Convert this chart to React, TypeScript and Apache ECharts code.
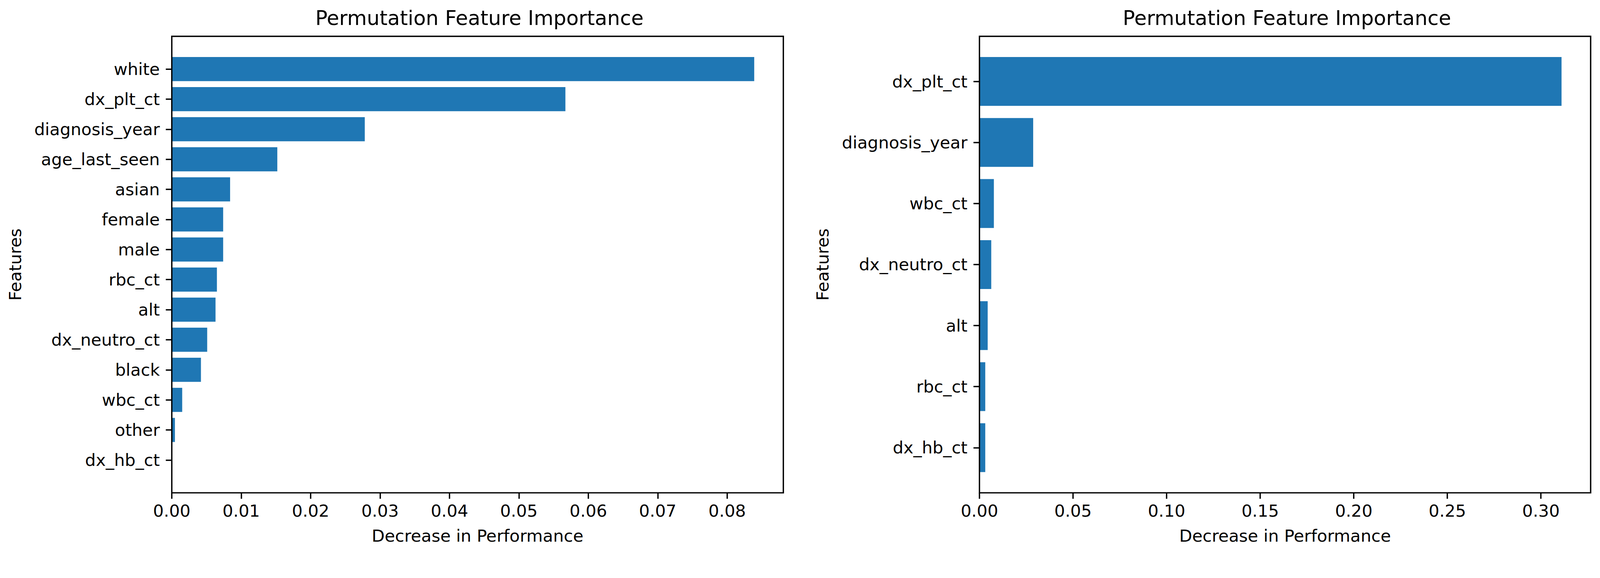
import React, { useEffect, useRef } from "react";
import * as echarts from "echarts";

// ---- data ----
const leftFeatures = [
  "white",
  "dx_plt_ct",
  "diagnosis_year",
  "age_last_seen",
  "asian",
  "female",
  "male",
  "rbc_ct",
  "alt",
  "dx_neutro_ct",
  "black",
  "wbc_ct",
  "other",
  "dx_hb_ct",
];
const leftValues = [
  0.0839, 0.0567, 0.0278, 0.0152, 0.0084, 0.0074, 0.0074, 0.0065, 0.0063,
  0.0051, 0.0042, 0.0015, 0.00045, 0.0,
];
const leftTicks = [0, 0.01, 0.02, 0.03, 0.04, 0.05, 0.06, 0.07, 0.08];

const rightFeatures = [
  "dx_plt_ct",
  "diagnosis_year",
  "wbc_ct",
  "dx_neutro_ct",
  "alt",
  "rbc_ct",
  "dx_hb_ct",
];
const rightValues = [0.311, 0.0287, 0.0077, 0.0063, 0.0044, 0.0031, 0.0031];
const rightTicks = [0, 0.05, 0.1, 0.15, 0.2, 0.25, 0.3];

const titleText = "Permutation Feature Importance";
const xName = "Decrease in Performance";
const yName = "Features";

// ---- layout / style (in 4275 x 1480 reference pixels) ----
const W = 4275;
const H = 1480;
const FONT = "DejaVu Sans";
const FRAME_TOP = 97;
const FRAME_H = 1220;
const LINE_W = 3.6;
const TICK_LEN = 16;
const BAR_COLOR = "#1f77b4";

const panels = [
  { left: 459, width: 1634, cats: leftFeatures, vals: leftValues, ticks: leftTicks, nameGap: 396 },
  { left: 2617, width: 1633, cats: rightFeatures, vals: rightValues, ticks: rightTicks, nameGap: 396 },
];

function buildOption() {
  const grid: any[] = [];
  const xAxis: any[] = [];
  const yAxis: any[] = [];
  const series: any[] = [];
  const title: any[] = [];

  panels.forEach((p, k) => {
    const n = p.cats.length;
    // matplotlib barh default limits: (-0.4 - m, n-1+0.4 + m), m = 0.05*(n-0.2)
    const span = (n - 0.2) * 1.1;
    const unit = FRAME_H / span;
    const padTop = (0.4 + 0.05 * (n - 0.2) - 0.5) * unit;
    const xmax = Math.max(...p.vals) * 1.05;
    const gFrame = k * 2;
    const gBars = k * 2 + 1;

    grid.push({
      left: p.left,
      top: FRAME_TOP,
      width: p.width,
      height: FRAME_H,
      show: true,
      borderColor: "#000",
      borderWidth: LINE_W,
      backgroundColor: "transparent",
      z: 5,
    });
    grid.push({
      left: p.left,
      top: FRAME_TOP + padTop,
      width: p.width,
      height: n * unit,
      show: false,
    });

    xAxis.push({
      gridIndex: gFrame,
      type: "value",
      min: 0,
      max: xmax,
      axisLine: { show: false },
      splitLine: { show: false },
      axisTick: {
        show: true,
        length: TICK_LEN,
        inside: false,
        customValues: p.ticks,
        lineStyle: { color: "#000", width: LINE_W },
      },
      axisLabel: {
        customValues: p.ticks,
        formatter: (v: number) => v.toFixed(2),
        color: "#000",
        fontFamily: FONT,
        fontSize: 45,
        margin: 26,
      },
      name: xName,
      nameLocation: "middle",
      nameGap: 92,
      nameTextStyle: { color: "#000", fontFamily: FONT, fontSize: 45 },
    });
    xAxis.push({
      gridIndex: gBars,
      type: "value",
      min: 0,
      max: xmax,
      show: false,
      splitLine: { show: false },
    });

    yAxis.push({
      gridIndex: gFrame,
      type: "value",
      show: false,
      splitLine: { show: false },
    });
    yAxis.push({
      gridIndex: gBars,
      type: "category",
      data: p.cats,
      inverse: true,
      axisLine: { show: false },
      splitLine: { show: false },
      axisTick: {
        show: true,
        alignWithLabel: true,
        length: TICK_LEN,
        lineStyle: { color: "#000", width: LINE_W },
      },
      axisLabel: {
        color: "#000",
        fontFamily: FONT,
        fontSize: 45,
        margin: 32,
        interval: 0,
      },
      name: yName,
      nameLocation: "middle",
      nameRotate: 90,
      nameGap: p.nameGap,
      nameTextStyle: { color: "#000", fontFamily: FONT, fontSize: 45 },
    });

    series.push({
      type: "bar",
      xAxisIndex: gBars,
      yAxisIndex: gBars,
      data: p.vals,
      barWidth: "80%",
      itemStyle: { color: BAR_COLOR },
      emphasis: { disabled: true },
    });

    title.push({
      text: titleText,
      left: p.left + p.width / 2,
      top: 16,
      textAlign: "center",
      textStyle: {
        color: "#000",
        fontFamily: FONT,
        fontSize: 54,
        fontWeight: "normal",
      },
    });
  });

  return {
    animation: false,
    backgroundColor: "#fff",
    title,
    grid,
    xAxis,
    yAxis,
    series,
  };
}

function viewportScale() {
  const vw = window.innerWidth || W;
  const vh = window.innerHeight || H;
  return Math.min(vw / W, vh / H, 1);
}

export default function App() {
  const ref = useRef<HTMLDivElement | null>(null);
  const s = viewportScale();
  useEffect(() => {
    document.body.style.margin = "0";
    document.body.style.overflow = "hidden";
    if (!ref.current) return;
    const chart = echarts.init(ref.current, undefined, { renderer: "svg" });
    chart.setOption(buildOption() as any);
    return () => chart.dispose();
  }, []);
  return (
    <div
      style={{
        position: "fixed",
        left: 0,
        top: 0,
        width: "100vw",
        height: "100vh",
        overflow: "hidden",
        background: "#fff",
      }}
    >
      <div
        ref={ref}
        style={{
          position: "absolute",
          left: 0,
          top: 0,
          width: W,
          height: H,
          transform: `scale(${s})`,
          transformOrigin: "0 0",
        }}
      />
    </div>
  );
}
